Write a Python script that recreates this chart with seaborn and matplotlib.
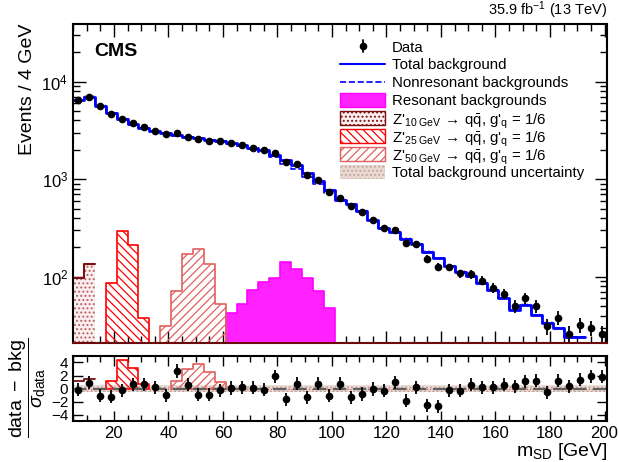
import numpy as np
import pandas as pd
import seaborn as sns
import matplotlib.pyplot as plt
from matplotlib.lines import Line2D
from matplotlib.patches import Rectangle
from matplotlib.ticker import MultipleLocator, LogLocator, NullFormatter

# bins of 4 GeV starting at 5 GeV
bin_lo = 5
bin_w = 4
n_bins = 49

data_counts = [6440, 7030, 5600, 4660, 4140, 3765, 3400, 3113, 2930, 2975,
               2730, 2578, 2459, 2459, 2345, 2236, 2102, 1974, 1867, 1496,
               1427, 1109, 977, 742, 634, 527, 458, 385, 314, 304,
               222, 218, 153, 126, 125, 108, 106, 91, 77, 67,
               50, 60, 50, 31, 38, 26, 32, 30, 26]

# total background, drawn up to 193 GeV
bkg_total = [6452, 6955, 5682, 4742, 4156, 3722, 3359, 3102, 2984, 2828,
             2699, 2624, 2504, 2471, 2340, 2227, 2095, 1981, 1785, 1558,
             1399, 1152, 954, 772, 615, 557, 475, 386, 319, 287,
             246, 214, 180, 157, 128, 113, 101, 86, 73.5, 61,
             46, 51.5, 40.6, 33.9, 29.7, 24.3, 24.3]

res_lo = 61
res_bkg = [42, 53, 73, 88, 97, 142, 120, 98, 71, 48]

zp10_lo, zp10 = 5, [97, 136]
zp25_lo, zp25 = 17, [86, 292, 210, 38]
zp50_lo, zp50 = 37, [31, 72, 171, 194, 136, 53]

pulls = [-0.15, 0.9, -1.1, -1.2, -0.25, 0.7, 0.7, 0.2, -1.0, 2.7,
         0.6, -0.9, -0.9, -0.25, 0.1, 0.2, 0.15, -0.15, 1.9, -1.6,
         0.75, -1.3, 0.75, -1.1, 0.75, -1.3, -0.8, -0.05, -0.3, 1.0,
         -1.8, 0.25, -2.5, -2.65, -0.25, -0.3, 0.6, 0.2, 0.25, 0.6,
         0.35, 1.15, 1.25, -0.55, 1.2, 0.35, 1.4, 1.9, 1.8]

zp10_pull_lo, zp10_pull = 5, [1.1, 1.5]
zp25_pull_lo, zp25_pull = 17, [1.2, 4.4, 3.2, 0.7]
zp50_pull_lo, zp50_pull = 41, [1.2, 3.0, 3.7, 2.6, 1.0]

bkg_unc_rel = 0.04
bkg_unc_pull = 0.5

zlab = r"Z$'_{\mathrm{%d\ GeV}}\,\rightarrow\,$q$\bar{\mathrm{q}}$, g$'_{\mathrm{q}}$ = 1/6"
legend_labels = ["Data", "Total background", "Nonresonant backgrounds",
                 "Resonant backgrounds", zlab % 10, zlab % 25, zlab % 50,
                 "Total background uncertainty"]

sns.set_theme(style="ticks")
plt.rcParams['font.family'] = ['Liberation Sans', 'DejaVu Sans']
plt.rcParams['mathtext.fontset'] = 'custom'
plt.rcParams['mathtext.rm'] = 'Liberation Sans'
plt.rcParams['mathtext.it'] = 'Liberation Sans:italic'
plt.rcParams['mathtext.bf'] = 'Liberation Sans:bold'
plt.rcParams['hatch.linewidth'] = 0.9
for k in ['text.color', 'axes.labelcolor', 'xtick.color', 'ytick.color']:
    plt.rcParams[k] = 'black'


def edges_of(lo, n):
    return lo + bin_w * np.arange(n + 1)


def step_hist(ax, lo, vals, **kw):
    e = edges_of(lo, len(vals))
    df = pd.DataFrame({"m": e[:-1] + bin_w / 2, "w": vals})
    sns.histplot(data=df, x="m", weights="w", bins=[float(v) for v in e],
                 element="step", ax=ax, **kw)


def step_line(ax, lo, vals, **kw):
    e = edges_of(lo, len(vals))
    y = np.append(vals, vals[-1])
    sns.lineplot(x=e, y=y, drawstyle="steps-post", estimator=None,
                 sort=False, ax=ax, **kw)


W, H = 619, 462
fig = plt.figure(figsize=(W / 100, H / 100), dpi=100)
ax = fig.add_axes([0.118, 0.258, 0.863, 0.690])
rax = fig.add_axes([0.118, 0.089, 0.863, 0.1407])

ax.set_yscale("log")
centers = bin_lo + bin_w / 2 + bin_w * np.arange(n_bins)
data = np.array(data_counts, dtype=float)
total = np.array(bkg_total, dtype=float)
nonres = total.copy()
i0 = (res_lo - bin_lo) // bin_w
nonres[i0:i0 + len(res_bkg)] -= np.array(res_bkg)

# signals and resonant background
step_hist(ax, res_lo, res_bkg, fill=True, color="#ff22ff",
          facecolor="#ff22ff", edgecolor="#ff00ff", linewidth=1.2, alpha=1)
step_hist(ax, zp10_lo, zp10, fill=True, color="#b86060", facecolor="#fbeeee",
          edgecolor="#b86060", hatch="....", linewidth=0)
step_hist(ax, zp10_lo, zp10, fill=False, color="#7a1010", linewidth=1.5)
step_hist(ax, zp25_lo, zp25, fill=True, color="#ff0000", facecolor="none",
          edgecolor="#ff0000", hatch="\\\\\\\\", linewidth=1.2)
step_hist(ax, zp50_lo, zp50, fill=True, color="#e06060", facecolor="none",
          edgecolor="#e06060", hatch="////", linewidth=1.2)

# background
e_tot = edges_of(bin_lo, len(bkg_total))
ax.fill_between(e_tot, np.append(total, total[-1]) * (1 - bkg_unc_rel),
                np.append(total, total[-1]) * (1 + bkg_unc_rel), step="post",
                facecolor="none", edgecolor="#c8a8a0", hatch="....",
                linewidth=0)
step_line(ax, bin_lo, total, color="#0000ff", linewidth=2.0)
step_line(ax, bin_lo, nonres, color="#0000ff", linewidth=1.2,
          linestyle="--")

ax.errorbar(centers, data, yerr=np.sqrt(data), fmt="o", color="black",
            ms=4.5, elinewidth=1.3, capsize=0)

ax.set_xlim(5, 201)
ax.set_ylim(21, 3.9e4)
ax.set_xlabel("")
ax.set_ylabel("Events / 4 GeV", fontsize=14, loc="top")
ax.xaxis.set_major_locator(MultipleLocator(20))
ax.xaxis.set_minor_locator(MultipleLocator(5))
ax.yaxis.set_major_locator(LogLocator(base=10))
ax.yaxis.set_minor_locator(LogLocator(base=10, subs=np.arange(2, 10)))
ax.yaxis.set_minor_formatter(NullFormatter())
ax.tick_params(axis="both", which="both", direction="in", top=True,
               right=True, labelbottom=False, labelsize=12)
ax.tick_params(which="major", length=9, width=1)
ax.tick_params(which="minor", length=5, width=1)
for s in ax.spines.values():
    s.set_linewidth(1.5)
    s.set_color("black")
ax.spines["bottom"].set_color("#6a0a0a")

ax.text(0.04, 0.94, "CMS", transform=ax.transAxes, fontsize=14,
        fontweight="bold", va="top", ha="left")
fig.text(0.981, 0.955, r"35.9 fb$^{-1}$ (13 TeV)", ha="right", va="bottom",
         fontsize=10.5)

# legend drawn row by row (fixed row pitch like the ROOT legend)
tf = fig.transFigure
hx0, hx1, tx = 340 / W, 385 / W, 392 / W
box_h = 14 / H
row_y = [1 - (46 + 18 * i) / H for i in range(len(legend_labels))]
box_styles = [
    dict(facecolor="#ff22ff", edgecolor="#ff00ff"),
    dict(facecolor="#fbeeee", edgecolor="#7a1010", hatch="...."),
    dict(facecolor="none", edgecolor="#ff0000", hatch="\\\\\\\\"),
    dict(facecolor="none", edgecolor="#e06060", hatch="////"),
    dict(facecolor="#e8d8d0", edgecolor="#c8a8a0", hatch="....", lw=0),
]
xm = (hx0 + hx1) / 2
fig.add_artist(Line2D([xm, xm], [row_y[0] - 6 / H, row_y[0] + 6 / H],
                      color="black", lw=1.3, transform=tf))
fig.add_artist(Line2D([xm], [row_y[0]], marker="o", ms=4.5, color="black",
                      transform=tf))
fig.add_artist(Line2D([hx0, hx1], [row_y[1]] * 2, color="#0000ff", lw=1.5,
                      transform=tf))
fig.add_artist(Line2D([hx0, hx1], [row_y[2]] * 2, color="#0000ff", lw=1.2,
                      ls="--", transform=tf))
for yy, st in zip(row_y[3:], box_styles):
    fig.add_artist(Rectangle((hx0, yy - box_h / 2), hx1 - hx0, box_h,
                             transform=tf, **st))
for yy, lab in zip(row_y, legend_labels):
    fig.text(tx, yy, lab, fontsize=10.8, ha="left", va="center_baseline")

# ratio panel
rax.axhspan(-bkg_unc_pull, bkg_unc_pull, facecolor="#eadcd6",
            edgecolor="#c0a098", hatch="....", linewidth=0)
rax.axhline(0, color="#e04040", lw=0.8, ls=":")
rax.axhline(0, color="#606060", lw=1.6, ls=(0, (6, 3)))
step_hist(rax, zp10_pull_lo, zp10_pull, fill=False, color="#7a1010",
          linewidth=1.3)
step_hist(rax, zp25_pull_lo, zp25_pull, fill=True, color="#ff0000",
          facecolor="none", edgecolor="#ff0000", hatch="\\\\\\\\",
          linewidth=1.2)
step_hist(rax, zp50_pull_lo, zp50_pull, fill=True, color="#e06060",
          facecolor="none", edgecolor="#e06060", hatch="////",
          linewidth=1.2)
rax.errorbar(centers, pulls, yerr=np.ones(n_bins), fmt="o", color="black",
             ms=4.5, elinewidth=1.3, capsize=0)

rax.set_xlim(5, 201)
rax.set_ylim(-4.9, 5.0)
rax.set_yticks([-4, -2, 0, 2, 4])
rax.xaxis.set_major_locator(MultipleLocator(20))
rax.xaxis.set_minor_locator(MultipleLocator(5))
rax.tick_params(axis="both", which="both", direction="in", top=True,
                right=True)
rax.tick_params(axis="x", labelsize=12)
rax.tick_params(axis="y", labelsize=11)
rax.tick_params(which="major", length=7, width=1)
rax.tick_params(which="minor", length=4, width=1)
for s in rax.spines.values():
    s.set_linewidth(1.5)
    s.set_color("black")
rax.set_ylabel(r"$\dfrac{\mathrm{data\ -\ bkg}}{\sigma_{\mathrm{data}}}$",
               fontsize=14, labelpad=2)
rax.set_xlabel(r"m$_{\mathrm{SD}}$ [GeV]", fontsize=14, loc="right",
               labelpad=0)

fig.savefig("out.png", dpi=100)
